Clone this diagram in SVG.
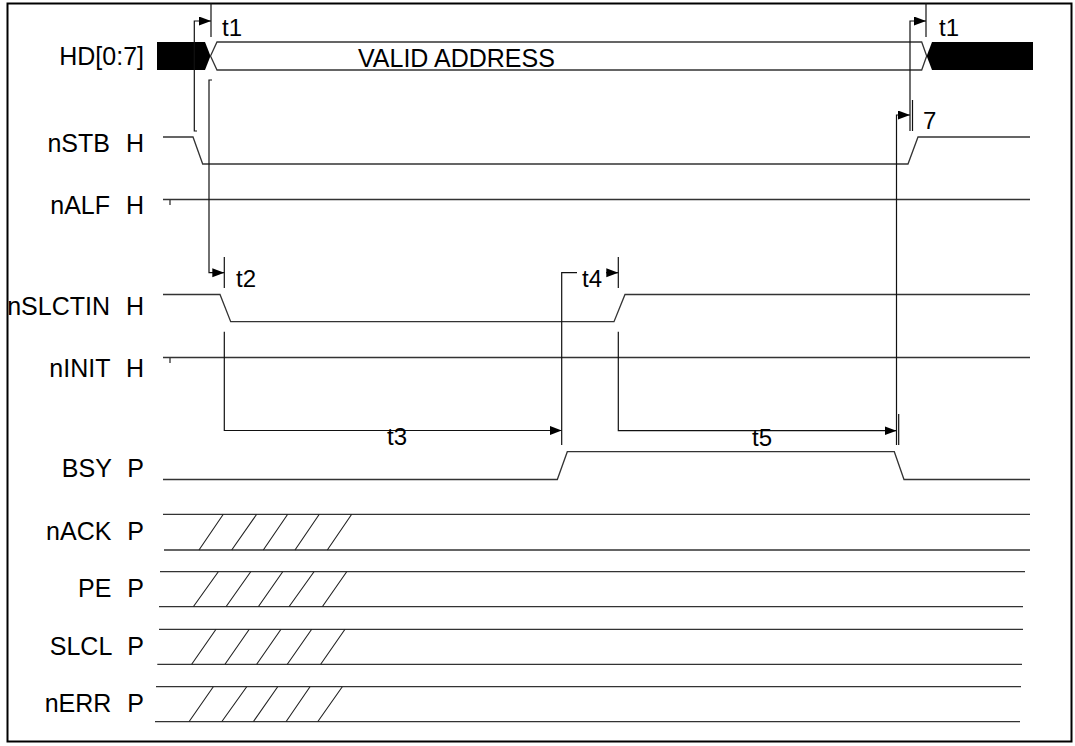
<svg xmlns="http://www.w3.org/2000/svg" width="1075" height="746" viewBox="0 0 1075 746">
<defs>
<marker id="ah" markerUnits="userSpaceOnUse" markerWidth="13" markerHeight="10" refX="12" refY="4.5" orient="auto">
<path d="M0,0 L12,4.5 L0,9 z" fill="#000"/>
</marker>
<style>
.lbl{font-family:"Liberation Sans",Arial,sans-serif;font-size:25px;fill:#000;text-anchor:end;word-spacing:9px}
.t{font-family:"Liberation Sans",Arial,sans-serif;font-size:24px;fill:#000}
.sig{fill:none;stroke:#333;stroke-width:1.3}
.dim{fill:none;stroke:#111;stroke-width:1.2}
.hat{fill:none;stroke:#222;stroke-width:1.1}
</style>
</defs>
<rect x="0" y="0" width="1075" height="746" fill="#fff"/>
<rect x="7.5" y="3.5" width="1064" height="738" fill="none" stroke="#000" stroke-width="2"/>

<g id="labels">
<text class="lbl" x="144" y="65">HD[0:7]</text>
<text class="lbl" x="144" y="152">nSTB H</text>
<text class="lbl" x="144" y="214">nALF H</text>
<text class="lbl" x="144" y="315">nSLCTIN H</text>
<text class="lbl" x="144" y="377">nINIT H</text>
<text class="lbl" x="144" y="477">BSY P</text>
<text class="lbl" x="144" y="540">nACK P</text>
<text class="lbl" x="144" y="597">PE P</text>
<text class="lbl" x="144" y="655">SLCL P</text>
<text class="lbl" x="144" y="712">nERR P</text>
</g>

<g id="hd">
<polygon points="157,42 205,42 210.5,56 205,70 157,70" fill="#000"/>
<path class="sig" d="M210.5,56 L217,42 L921.7,42 L926.7,56 L921.7,70 L217,70 Z"/>
<polygon points="926.7,56 932,42 1033,42 1033,70 932,70" fill="#000"/>
<text x="358" y="67" style="font-family:'Liberation Sans',Arial,sans-serif;font-size:25px">VALID ADDRESS</text>
</g>

<g id="nstb">
<path class="sig" d="M163,137 L193,137 L202.7,164 L908,164 L918,137 L1030,137"/>
</g>
<g id="nalf">
<path class="sig" d="M163,199.5 L1030,199.5 M170,199.5 L170,205"/>
</g>
<g id="nslctin">
<path class="sig" d="M163,294.5 L220,294.5 L230.7,321.7 L614,321.7 L625,294.5 L1030,294.5"/>
</g>
<g id="ninit">
<path class="sig" d="M163,357.5 L1030,357.5 M170,357.5 L170,363"/>
</g>
<g id="bsy">
<path class="sig" d="M163,479.5 L557.3,479.5 L567.3,451.7 L894.3,451.7 L904,479.5 L1030,479.5"/>
</g>
<g id="nack">
<path class="sig" d="M163,514.3 L1030,514.3 M164,550 L1030,550"/>
<path class="hat" d="M199,550 L223.3,514.3 M231.7,550 L256.7,514.3 M263.3,550 L287.7,514.3 M295,550 L319.3,514.3 M327.3,550 L351.7,514.3"/>
</g>
<g id="pe">
<path class="sig" d="M160,571.7 L1025,571.7 M159,606.7 L1023,606.7"/>
<path class="hat" d="M193.3,606.7 L218.3,571.7 M226,606.7 L250.7,571.7 M258.3,606.7 L282.7,571.7 M289,606.7 L314,571.7 M322.3,606.7 L346.7,571.7"/>
</g>
<g id="slcl">
<path class="sig" d="M159,629.3 L1023,629.3 M157.3,664.3 L1022,664.3"/>
<path class="hat" d="M191.7,664.3 L216,629.3 M225,664.3 L249.3,629.3 M256.7,664.3 L281,629.3 M287.3,664.3 L311.7,629.3 M320.7,664.3 L345,629.3"/>
</g>
<g id="nerr">
<path class="sig" d="M156,686.7 L1021,686.7 M155,721.7 L1020,721.7"/>
<path class="hat" d="M189,721.7 L213.3,686.7 M221.7,721.7 L246.7,686.7 M253.3,721.7 L277.7,686.7 M286,721.7 L310,686.7 M317.7,721.7 L342.3,686.7"/>
</g>

<g id="connectors">
<path class="dim" d="M211,3 L211,37"/>
<path class="dim" d="M197,131 L194.3,131 L194.3,21 L211,21" marker-end="url(#ah)"/>
<text class="t" x="222" y="36">t1</text>
<path class="dim" d="M926,3 L926,37"/>
<path class="dim" d="M910,131 L910,21 L926,21" marker-end="url(#ah)"/>
<path class="dim" d="M912.5,100 L912.5,131"/>
<text class="t" x="939" y="36">t1</text>
<path class="dim" d="M896.5,445 L896.5,115 L910,115" marker-end="url(#ah)"/>
<text class="t" x="923" y="129">7</text>
<path class="dim" d="M212,80 L209,80 L209,272.7 L224.3,272.7" marker-end="url(#ah)"/>
<path class="dim" d="M224.3,257 L224.3,288"/>
<text class="t" x="236" y="287">t2</text>
<path class="dim" d="M224.3,331.7 L224.3,430.5 L561.7,430.5" marker-end="url(#ah)"/>
<path class="dim" d="M561.7,445 L561.7,272.7 L577,272.7"/>
<rect x="386" y="432" width="24" height="14" fill="#fff"/>
<text class="t" x="387" y="445">t3</text>
<path class="dim" d="M606,272.7 L618.3,272.7" marker-end="url(#ah)"/>
<path class="dim" d="M618.3,257 L618.3,288"/>
<text class="t" x="582" y="287">t4</text>
<path class="dim" d="M618.3,331.7 L618.3,430.7 L896.5,430.7" marker-end="url(#ah)"/>
<path class="dim" d="M898.7,414 L898.7,445"/>
<rect x="751" y="432" width="24" height="14" fill="#fff"/>
<text class="t" x="752" y="446">t5</text>
</g>
</svg>
